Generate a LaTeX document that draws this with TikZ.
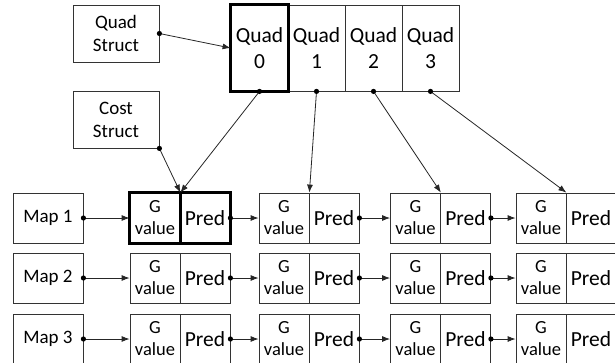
\documentclass[tikz,border=0pt]{standalone}
\usepackage{fontspec}
\setmainfont{Carlito}
\usetikzlibrary{arrows.meta}
\tikzset{
  box/.style={draw=black!80, line width=0.8pt, inner sep=0pt, align=center},
  big/.style={font=\fontsize{21.5}{26}\selectfont},
  small/.style={font=\fontsize{19}{23}\selectfont},
  qcell/.style={box, big, minimum width=57pt, minimum height=86pt},
  sbox/.style={box, small, minimum width=86pt, minimum height=57pt},
  mbox/.style={box, small, minimum width=70pt, minimum height=50pt},
  gcell/.style={box, font=\fontsize{18.5}{22}\selectfont, minimum width=50pt, minimum height=50pt},
  pcell/.style={box, big, minimum width=50pt, minimum height=50pt},
  thick box/.style={draw=black, line width=3pt},
  link/.style={draw=black!85, line width=0.8pt, -{Latex[length=8pt,width=6pt]}},
  dot/.style={fill=black}
}
\begin{document}
\begin{tikzpicture}[x=1pt,y=-1pt]
\useasboundingbox (0,0) rectangle (615,362);
% Quad array
\node[qcell] (q0) at (259.5,48) {Quad\\0};
\node[qcell] (q1) at (316.5,48) {Quad\\1};
\node[qcell] (q2) at (373.5,48) {Quad\\2};
\node[qcell] (q3) at (430.5,48) {Quad\\3};
\draw[thick box] (q0.south west) rectangle (q0.north east);
% structs
\node[sbox] (qs) at (116,33.5) {Quad\\Struct};
\node[sbox] (cs) at (116,119.5) {Cost\\Struct};
% maps
\foreach \r/\y in {1/218,2/278,3/339}{
  \node[mbox] (m\r) at (48,\y) {Map \r};
  \node[gcell] (g\r a) at (155,\y) {G\\value};
  \node[pcell] (p\r a) at (205,\y) {Pred};
  \node[gcell] (g\r b) at (284,\y) {G\\value};
  \node[pcell] (p\r b) at (334,\y) {Pred};
  \node[gcell] (g\r c) at (415.5,\y) {G\\value};
  \node[pcell] (p\r c) at (465.5,\y) {Pred};
  \node[gcell] (g\r d) at (541,\y) {G\\value};
  \node[pcell] (p\r d) at (591,\y) {Pred};
  \draw[link] (m\r.east) -- (g\r a.west);
  \draw[link] (p\r a.east) -- (g\r b.west);
  \draw[link] (p\r b.east) -- (g\r c.west);
  \draw[link] (p\r c.east) -- (g\r d.west);
  \fill[dot] (m\r.east) circle (2.6);
  \fill[dot] (p\r a.east) circle (2.6);
  \fill[dot] (p\r b.east) circle (2.6);
  \fill[dot] (p\r c.east) circle (2.6);
}
\draw[thick box] (g1a.south west) rectangle (p1a.north east);
\draw[thick box] (g1a.north east) -- (g1a.south east);
% pointer links
\draw[link] (qs.east) -- (q0.west);
\draw[link] (cs.south east) -- (g1a.north east);
\draw[link] (q0.south) -- (g1a.north east);
\draw[link] (q1.south) -- (g1b.north east);
\draw[link] (q2.south) -- (g1c.north east);
\draw[link] (q3.south) -- (g1d.north east);
\fill[dot] (qs.east) circle (2.6);
\fill[dot] (cs.south east) circle (2.6);
\fill[dot] (q0.south) circle (2.6);
\fill[dot] (q1.south) circle (2.6);
\fill[dot] (q2.south) circle (2.6);
\fill[dot] (q3.south) circle (2.6);
\end{tikzpicture}
\end{document}
